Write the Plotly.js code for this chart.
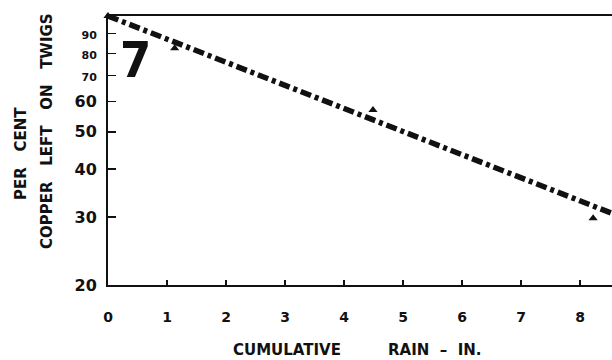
<!DOCTYPE html>
<html><head><meta charset="utf-8">
<script src="https://cdn.plot.ly/plotly-3.0.1.min.js"></script>
<style>body{margin:0;background:#fff}#c{width:612px;height:360px}</style>
</head><body><div id="c"></div>
<script>
// Observed points (triangles)
const rain = [0, 1.13, 4.49, 8.22];
const copper = [100, 82.5, 57, 29.8];
// Fitted dash-dot line end points
const fitRain = [0, 8.54];
const fitCopper = [100, 30.7];
// Axis ticks
const xTicks = [0, 1, 2, 3, 4, 5, 6, 7, 8];
const yTicks = [20, 30, 40, 50, 60, 70, 80, 90];
const ySmall = [70, 80, 90];

const F = '"DejaVu Sans", sans-serif';
const yText = yTicks.map(v => ySmall.includes(v) ? '<span style="font-size:11px">' + v + '</span>' : String(v));
const sp = n => '&nbsp;'.repeat(n);

const data = [
  {x: fitRain, y: fitCopper, mode: 'lines', line: {color: '#111', width: 5.5, dash: '11px,4px,4px,4px'}, hoverinfo: 'skip', cliponaxis: false},
  {x: rain, y: copper, mode: 'markers', marker: {symbol: 'triangle-up', size: 8, color: '#111'}, cliponaxis: false}
];

const layout = {
  width: 612, height: 360,
  margin: {l: 108, r: 0, t: 16, b: 75},
  paper_bgcolor: '#fff', plot_bgcolor: '#fff',
  showlegend: false,
  font: {family: F, color: '#111'},
  xaxis: {
    range: [0, 8.54], tickvals: xTicks, ticktext: xTicks.map(String),
    ticks: 'inside', ticklen: 5, tickwidth: 1.5, tickcolor: '#111',
    showline: true, linewidth: 2, linecolor: '#111', mirror: true,
    showgrid: false, zeroline: false,
    tickfont: {family: F, size: 14, color: '#111', weight: 'bold'},
    ticklabelstandoff: 18
  },
  yaxis: {
    type: 'log', range: [Math.log10(20), 2], tickvals: yTicks, ticktext: yText,
    ticks: 'inside', ticklen: 8, tickwidth: 1.5, tickcolor: '#111',
    showline: true, linewidth: 2, linecolor: '#111',
    showgrid: false, zeroline: false,
    tickfont: {family: F, size: 16, color: '#111', weight: 'bold'},
    ticklabelstandoff: 6
  },
  annotations: [
    {text: 'CUMULATIVE' + sp(9) + 'RAIN' + sp(2) + '–' + sp(2) + 'IN.', xref: 'paper', yref: 'paper', x: 0.495, y: 0, xanchor: 'center', yanchor: 'middle', yshift: -65, showarrow: false,
     font: {family: F, size: 15, color: '#111', weight: 'bold'}},
    {text: 'PER' + sp(3) + 'CENT', xref: 'paper', yref: 'paper', x: 0, xshift: -87, y: 0.5, yshift: -3.5, xanchor: 'center', yanchor: 'middle', textangle: -90, showarrow: false,
     font: {family: F, size: 15, color: '#111', weight: 'bold'}},
    {text: 'COPPER' + sp(3) + 'LEFT' + sp(3) + 'ON' + sp(3) + 'TWIGS', xref: 'paper', yref: 'paper', x: 0, xshift: -61, y: 0.5, yshift: 19.5, xanchor: 'center', yanchor: 'middle', textangle: -90, showarrow: false,
     font: {family: F, size: 15, color: '#111', weight: 'bold'}},
    {text: '7', xref: 'paper', yref: 'paper', x: 0, xshift: 27, y: 1, yshift: -44, xanchor: 'center', yanchor: 'middle', showarrow: false,
     font: {family: '"DejaVu Sans Condensed", sans-serif', size: 50, color: '#111', weight: 'bold'}}
  ]
};
Plotly.newPlot('c', data, layout, {displayModeBar: false, staticPlot: true});
</script></body></html>
